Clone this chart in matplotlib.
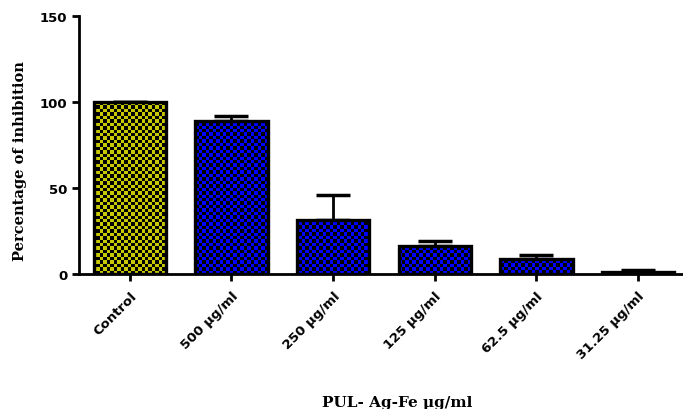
import numpy as np
import matplotlib
matplotlib.use("Agg")
import matplotlib.pyplot as plt

# data
categories = ["Control", "500 µg/ml", "250 µg/ml", "125 µg/ml", "62.5 µg/ml", "31.25 µg/ml"]
inhibition = [100.0, 89.2, 31.6, 16.1, 8.9, 1.3]
err_upper = [0.0, 2.8, 14.5, 3.1, 2.0, 0.8]
bar_colors = ["#c8c800", "#0000ff", "#0000ff", "#0000ff", "#0000ff", "#0000ff"]

fig = plt.figure(figsize=(6.83, 4.10), dpi=100)
ax = fig.add_axes([0.1157, 0.329, 0.884, 0.629])

x = np.arange(len(categories))
bw = 0.71

# error bars (upper only) behind the bars
ax.errorbar(x, inhibition, yerr=[np.zeros(len(x)), err_upper], fmt="none",
            ecolor="black", elinewidth=2, capsize=12, capthick=2.5, zorder=1)

bars = ax.bar(x, inhibition, width=bw, color=bar_colors, edgecolor="black",
              linewidth=2, zorder=2)

# checkerboard fill, clipped to each bar
nx, ny = 176, 75
ii, jj = np.meshgrid(np.arange(nx), np.arange(ny))
checker = ((ii + jj) % 2 == 0)
for rect, col in zip(bars, bar_colors):
    rgba = np.zeros((ny, nx, 4))
    rgba[..., 3] = 1.0
    c = matplotlib.colors.to_rgb(col)
    rgba[checker, 0] = c[0]
    rgba[checker, 1] = c[1]
    rgba[checker, 2] = c[2]
    im = ax.imshow(rgba, extent=[0, 1, 0, 1], transform=ax.transAxes,
                   interpolation="nearest", aspect="auto", zorder=2.1)
    im.set_clip_path(rect)

ax.bar(x, inhibition, width=bw, fill=False, edgecolor="black",
       linewidth=2.4, zorder=3)

ax.set_xlim(-0.50, 5.44)
ax.set_ylim(0, 150)
ax.set_yticks([0, 50, 100, 150])
ax.set_xticks(x)
ax.set_xticklabels(categories, rotation=45, ha="right", rotation_mode="anchor",
                   fontsize=9.5, fontweight="bold", family="DejaVu Sans")
for lab in ax.get_yticklabels():
    lab.set_fontsize(9.5)
    lab.set_fontweight("bold")
    lab.set_family("DejaVu Sans")

for s in ["top", "right"]:
    ax.spines[s].set_visible(False)
for s in ["left", "bottom"]:
    ax.spines[s].set_linewidth(2)
ax.tick_params(axis="both", width=2, length=5, direction="out")
ax.tick_params(axis="x", pad=6)

fig.text(20 / 683, 1 - 161 / 410, "Percentage of inhibition", rotation=90,
         ha="center", va="center", fontsize=10.5, fontweight="bold",
         family="DejaVu Serif")
fig.text(397 / 683, 1 - 403 / 410, "PUL- Ag-Fe µg/ml", ha="center", va="center",
         fontsize=11, fontweight="bold", family="DejaVu Serif")

fig.savefig("out.png", dpi=100)
